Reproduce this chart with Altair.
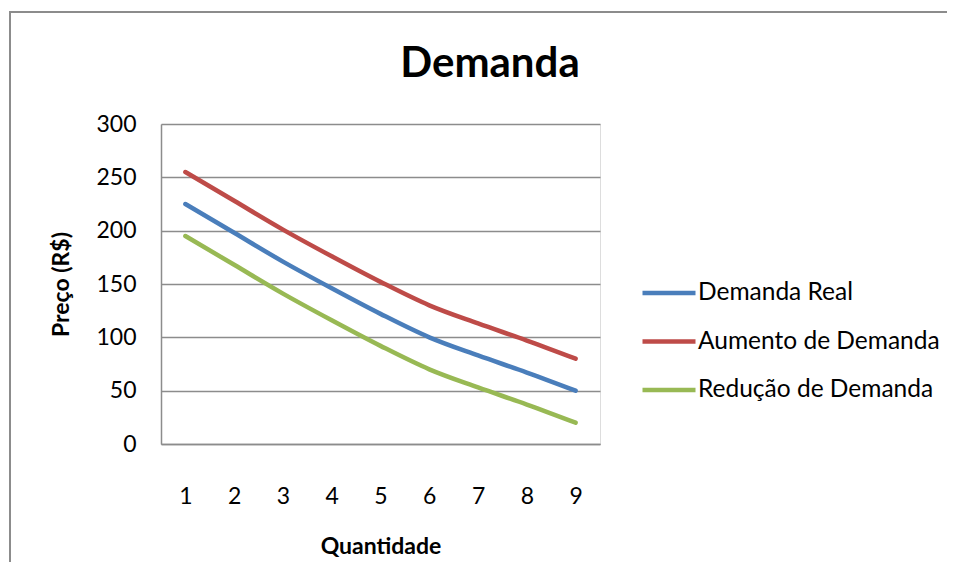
import altair as alt
import pandas as pd

quantidade = [1, 2, 3, 4, 5, 6, 7, 8, 9]
demanda_real = [225, 198, 171, 146, 122, 100, 83, 67, 50]
aumento = [255, 228, 201, 176, 152, 130, 113, 97, 80]
reducao = [195, 168, 141, 116, 92, 70, 53, 37, 20]
series_names = ["Demanda Real", "Aumento de Demanda", "Redução de Demanda"]
series_colors = ["#4A7EBB", "#BE4B48", "#98B954"]
y_ticks = [0, 50, 100, 150, 200, 250, 300]

rows = []
for name, vals in zip(series_names, [demanda_real, aumento, reducao]):
    for q, v in zip(quantidade, vals):
        rows.append({"Quantidade": q, "Preço": v, "Série": name})
df = pd.DataFrame(rows)

FONT = "Lato"
GRID = "#8C8C8C"

lines = alt.Chart(df).mark_line(strokeWidth=4.5, interpolate="monotone", strokeCap="round").encode(
    x=alt.X("Quantidade:O", title="Quantidade",
            scale=alt.Scale(type="point", padding=0.5),
            axis=alt.Axis(labelAngle=0, ticks=False, grid=False, domainColor=GRID, domainWidth=1.5,
                          labelFontSize=23, labelPadding=41, labelColor="black", labelFont=FONT,
                          titleFontSize=23, titleFont=FONT, titleFontWeight="bold", titleColor="black",
                          titleY=109, titleBaseline="alphabetic")),
    y=alt.Y("Preço:Q", title="Preço (R$)",
            scale=alt.Scale(domain=[0, 300], nice=False),
            axis=alt.Axis(values=y_ticks, ticks=False, grid=True, gridColor=GRID, gridWidth=1.5,
                          domainColor=GRID, domainWidth=1.5,
                          labelFontSize=23, labelPadding=25, labelColor="black", labelFont=FONT,
                          titleFontSize=23, titleFont=FONT, titleFontWeight="bold", titleColor="black",
                          titleX=-93, titleY=160, titleBaseline="alphabetic")),
    color=alt.Color("Série:N", sort=series_names,
                    scale=alt.Scale(domain=series_names, range=series_colors),
                    legend=alt.Legend(title=None, orient="none", legendX=479, legendY=140,
                                      symbolType="stroke", symbolSize=2809, symbolStrokeWidth=4.5,
                                      labelFontSize=24.5, labelFont=FONT, labelColor="black",
                                      labelOffset=0, rowPadding=7.5, labelLimit=400)),
)

one = pd.DataFrame({"k": [0]})

title = alt.Chart(one).mark_text(text="Demanda", font=FONT, fontSize=42, fontWeight="bold",
                                 color="black", align="center", baseline="alphabetic").encode(
    x=alt.value(329), y=alt.value(-47))

border_left = alt.Chart(one).mark_rule(color="#8C8C8C", strokeWidth=2).encode(
    x=alt.value(-151), y=alt.value(-112), y2=alt.value(470))
border_top = alt.Chart(one).mark_rule(color="#8C8C8C", strokeWidth=2).encode(
    x=alt.value(-152), x2=alt.value(786), y=alt.value(-112))

chart = alt.layer(lines, title, border_left, border_top).properties(
    width=439, height=320,
    padding={"left": 153, "top": 116, "right": 349, "bottom": 118},
    autosize="none",
).configure_view(stroke=None).configure(background="white")

chart.save("out.html", embed_options={"renderer": "svg", "actions": False})
